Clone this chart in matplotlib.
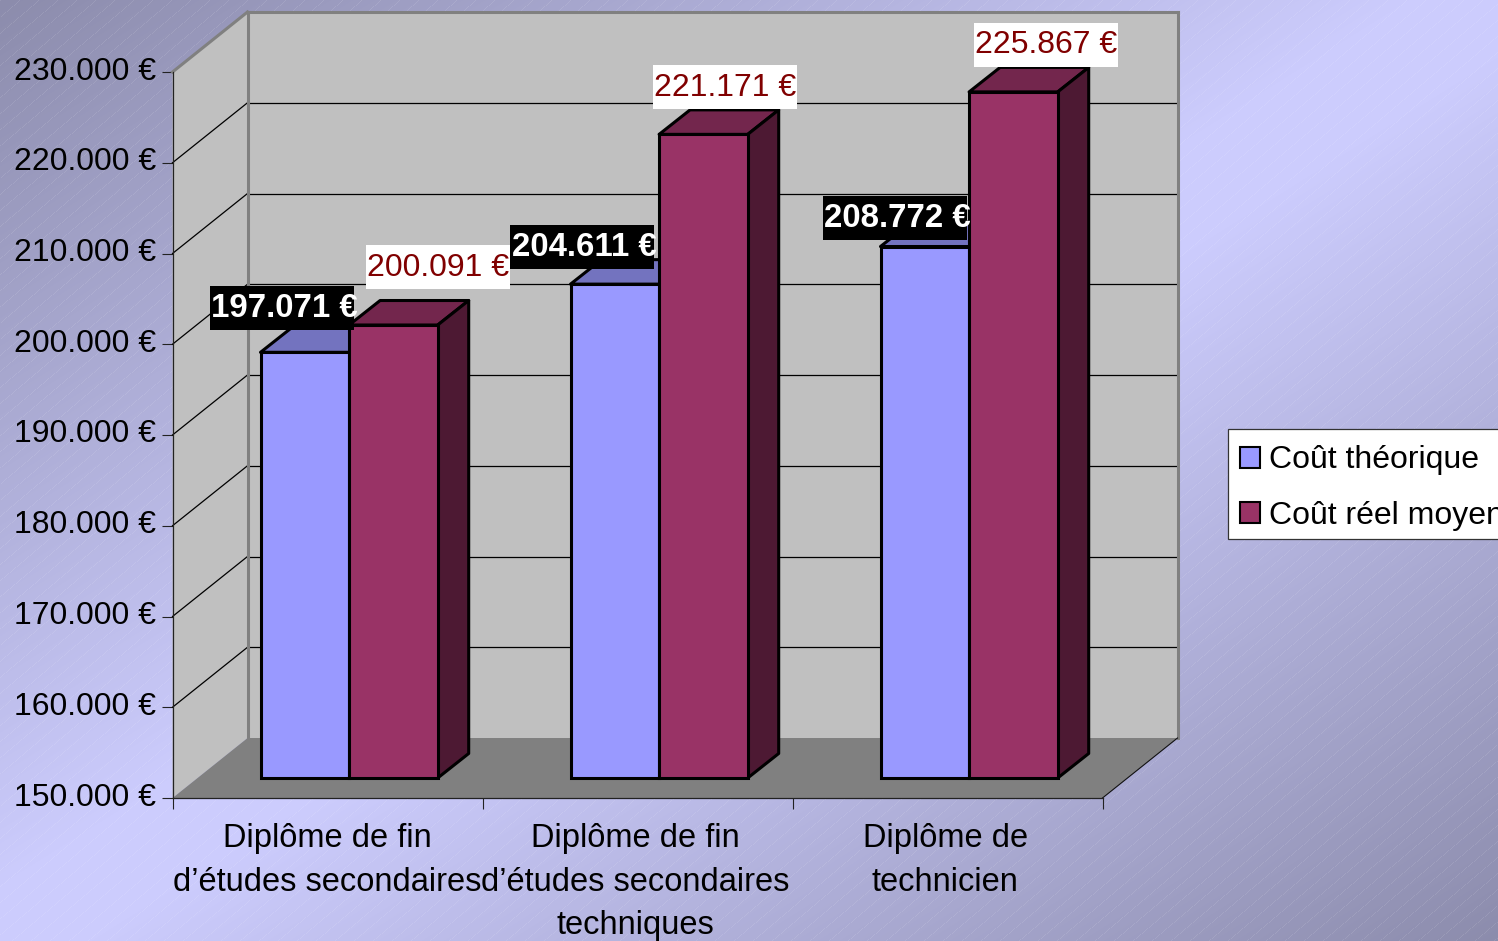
import numpy as np
import matplotlib
matplotlib.use("Agg")
import matplotlib.pyplot as plt
from matplotlib.patches import Polygon, Rectangle
from matplotlib.transforms import Affine2D, IdentityTransform
from matplotlib.ticker import FuncFormatter

categories = ["Diplôme de fin\nd’études secondaires",
              "Diplôme de fin\nd’études secondaires\ntechniques",
              "Diplôme de\ntechnicien"]
cout_theorique = [197071, 204611, 208772]
cout_reel = [200091, 221171, 225867]
series_names = ["Coût théorique", "Coût réel moyen"]
y_ticks = [150000, 160000, 170000, 180000, 190000, 200000, 210000, 220000, 230000]

W, H = 1498, 941
plt.rcParams['font.family'] = ['Liberation Sans', 'DejaVu Sans']
FS = 23.04
fig = plt.figure(figsize=(W / 100, H / 100), dpi=100)

# background gradient with fine diagonal stripes
bg = fig.add_axes([0, 0, 1, 1], zorder=0)
yy, xx = np.mgrid[0:H, 0:W]
t = (xx / W + yy / H) / 2
k = np.clip((np.abs(t - 0.5) - 0.03) / 0.47, 0, 1)
light = np.array([0xCC, 0xCC, 0xFD], float)
dark = np.array([0x8C, 0x8C, 0xAC], float)
img = light[None, None, :] * (1 - k[..., None]) + dark[None, None, :] * k[..., None]
stripe = np.mod(xx + yy * 1.18, 19.0) < 1.0
img[stripe] = img[stripe] * 0.9 + 255 * 0.1
bg.imshow(img.astype(np.uint8), extent=(0, W, H, 0), aspect='auto', interpolation='nearest')
bg.axis('off')

ax = fig.add_axes([172.5 / W, 1 - 798 / H, 930 / W, 726 / H], zorder=1)
ax.patch.set_visible(False)
ax.set_xlim(0, 3)
ax.set_ylim(y_ticks[0], y_ticks[-1])
ax.set_autoscale_on(False)
ymin, ymax = y_ticks[0], y_ticks[-1]

DX, DY = 75.0, 60.0              # full chart depth in pixels
BAR_F = 1 / 3                    # depth fraction of the bar front plane
BAR_DX, BAR_DY = 31.0, 24.5      # bar depth in pixels
BAR_W = 88.6 / 310
BAR_X0 = 63 / 310
BAR_SCALE = 0.9965               # the bar plane is slightly further away


def P(x, v, f=0.0):
    d = ax.transData.transform((x, v))
    return (d[0] + DX * f, d[1] + DY * f)


def poly(pts, **kw):
    kw.setdefault('clip_on', False)
    ax.add_patch(Polygon(pts, closed=True, transform=IdentityTransform(), **kw))


# walls and floor
WALL = '#C0C0C0'
poly([P(0, ymin), P(0, ymax), P(0, ymax, 1), P(0, ymin, 1)], fc=WALL, ec='none', zorder=1)
poly([P(0, ymin, 1), P(0, ymax, 1), P(3, ymax, 1), P(3, ymin, 1)], fc=WALL, ec='none', zorder=1)
poly([P(0, ymin), P(3, ymin), P(3, ymin, 1), P(0, ymin, 1)], fc='#808080', ec='none', zorder=2)


def seg(a, b, **kw):
    ax.add_line(plt.Line2D([a[0], b[0]], [a[1], b[1]], transform=IdentityTransform(),
                           clip_on=False, **kw))


for v in y_ticks[1:-1]:
    seg(P(0, v), P(0, v, 1), color='#000000', lw=0.9, zorder=2)
    seg(P(0, v, 1), P(3, v, 1), color='#000000', lw=0.9, zorder=2)
GREY = '#808080'
for a, b in [(P(0, ymax), P(0, ymax, 1)), (P(0, ymin, 1), P(0, ymax, 1)),
             (P(0, ymax, 1), P(3, ymax, 1)), (P(3, ymax, 1), P(3, ymin, 1))]:
    seg(a, b, color=GREY, lw=2.2, zorder=2.5, solid_capstyle='projecting')
seg(P(3, ymin), P(3, ymin, 1), color='#111111', lw=0.8, zorder=2.5)

# bars
y0_disp = ax.transData.transform((0, ymin))[1]
bar_tf = ax.transData + (Affine2D().translate(0, -y0_disp).scale(1, BAR_SCALE)
                         .translate(DX * BAR_F, y0_disp + DY * BAR_F))


def B(x, v, back=False):
    d = bar_tf.transform((x, v))
    return (d[0] + BAR_DX, d[1] + BAR_DY) if back else (d[0], d[1])


LW = 2.2
handles = []
for s, (vals, front, top, side) in enumerate([
        (cout_theorique, '#9999FF', '#7373BF', '#4C4C80'),
        (cout_reel, '#993366', '#73264D', '#4D1933')]):
    xs = [i + BAR_X0 + s * BAR_W for i in range(len(vals))]
    for x, v in zip(xs, vals):
        xr = x + BAR_W
        kw = dict(ec='black', lw=LW, joinstyle='round', zorder=3 + s)
        poly([B(x, v), B(xr, v), B(xr, v, True), B(x, v, True)], fc=top, **kw)
        poly([B(xr, ymin), B(xr, v), B(xr, v, True), B(xr, ymin, True)], fc=side, **kw)
    c = ax.bar(xs, [v - ymin for v in vals], width=BAR_W, bottom=ymin, align='edge',
               color=front, edgecolor='black', linewidth=LW, transform=bar_tf,
               clip_on=False, zorder=3.5 + s, label=series_names[s])
    handles.append(c)

# value labels: offset in pixels of the box centre from the bar's front top centre
label_off = [[(-22.5, 44.5), (-32.5, 37.5), (-29.5, 28.5)],
             [(44.5, 58), (21.5, 47), (32.5, 47)]]
BOX_W, BOX_H = 144, 44
for s, vals in enumerate([cout_theorique, cout_reel]):
    for i, v in enumerate(vals):
        cx, cy = B(i + BAR_X0 + (s + 0.5) * BAR_W, v)
        cx += label_off[s][i][0]
        cy += label_off[s][i][1]
        fc, tc, wt, fs = (('black', 'white', 'bold', 23.8) if s == 0
                          else ('white', '#800000', 'normal', FS))
        ax.add_patch(Rectangle((cx - BOX_W / 2, cy - BOX_H / 2), BOX_W, BOX_H, fc=fc, ec='none',
                               transform=IdentityTransform(), clip_on=False, zorder=6))
        ax.text(cx + (2 if s == 0 else 0), cy + 3, f"{v:,}".replace(',', '.') + " €", color=tc,
                fontweight=wt, fontsize=fs, ha='center', va='center_baseline',
                transform=IdentityTransform(), clip_on=False, zorder=7)

# axes
for sp in ('top', 'right'):
    ax.spines[sp].set_visible(False)
for sp in ('left', 'bottom'):
    ax.spines[sp].set_linewidth(0.9)
    ax.spines[sp].set_color('#222222')
    ax.spines[sp].set_zorder(2.6)
ax.set_yticks(y_ticks)
ax.yaxis.set_major_formatter(FuncFormatter(lambda v, _: f"{int(v):,}".replace(',', '.') + " €"))
ax.tick_params(axis='y', length=8, width=0.8, color='#222222', pad=4.0, labelsize=FS, labelcolor='black')
ax.set_xticks([0, 1, 2, 3])
ax.set_xticklabels([])
ax.tick_params(axis='x', which='major', length=8, width=0.8, color='#222222')
ax.set_xticks([0.5, 1.493, 2.493], minor=True)
ax.set_xticklabels(categories, minor=True, fontsize=23.5, linespacing=1.53, ha='center', va='top')
ax.tick_params(axis='x', which='minor', length=0, pad=18)
fig.canvas.draw()
for lab in ax.get_yticklabels():
    lab.set_transform(lab.get_transform() + Affine2D().translate(0, 4))

# legend: frame drawn separately so the entries can sit as in the reference
ax.add_patch(Rectangle((1228, H - 539), 290, 110, fc='white', ec='#333333', lw=0.9,
                       transform=IdentityTransform(), clip_on=False, zorder=7.9))
leg = ax.legend(handles=handles, labels=series_names, loc='upper left',
                bbox_to_anchor=(1228, H - 433), bbox_transform=IdentityTransform(),
                fontsize=FS, frameon=False, handlelength=0.625, handleheight=0.625,
                handletextpad=0.27, borderpad=0.39, labelspacing=0.8, borderaxespad=0)
leg.set_zorder(8)
leg.set_clip_on(False)
for h in leg.get_patches():
    h.set_linewidth(1.5)

fig.savefig('out.png', dpi=100)
